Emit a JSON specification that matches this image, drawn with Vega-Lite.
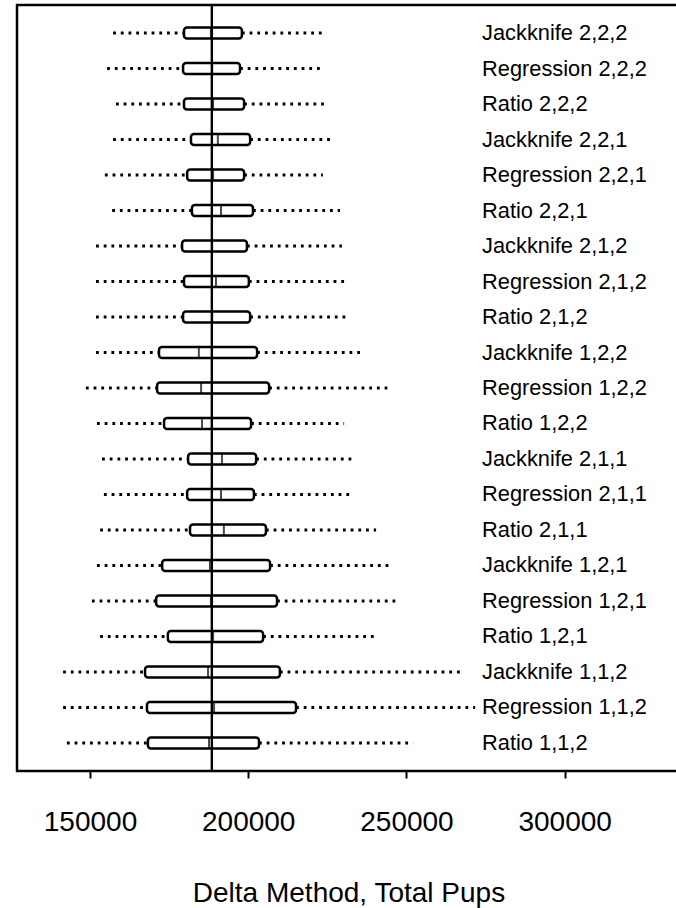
{
  "$schema": "https://vega.github.io/schema/vega-lite/v6.json",
  "autosize": {"type": "none"},
  "padding": {"left": 17, "top": 5, "right": 0, "bottom": 137},
  "width": 663,
  "height": 766,
  "background": "white",
  "config": {
    "view": {"stroke": "black", "strokeWidth": 2.5},
    "font": "Liberation Sans"
  },
  "data": {
    "values": [
      {"name": "Jackknife 2,2,2", "lo": 157300, "q1": 179700, "med": 188200, "q3": 198000, "hi": 224300},
      {"name": "Regression 2,2,2", "lo": 155400, "q1": 179400, "med": 188600, "q3": 197400, "hi": 223600},
      {"name": "Ratio 2,2,2", "lo": 158200, "q1": 179700, "med": 188900, "q3": 198700, "hi": 225200},
      {"name": "Jackknife 2,2,1", "lo": 157300, "q1": 181900, "med": 190400, "q3": 200600, "hi": 226800},
      {"name": "Regression 2,2,1", "lo": 154700, "q1": 180700, "med": 188900, "q3": 198700, "hi": 223600},
      {"name": "Ratio 2,2,1", "lo": 157000, "q1": 182200, "med": 191400, "q3": 201500, "hi": 229000},
      {"name": "Jackknife 2,1,2", "lo": 151900, "q1": 179100, "med": 188600, "q3": 199600, "hi": 229600},
      {"name": "Regression 2,1,2", "lo": 151900, "q1": 179700, "med": 189800, "q3": 200200, "hi": 230300},
      {"name": "Ratio 2,1,2", "lo": 151900, "q1": 179400, "med": 188600, "q3": 200600, "hi": 231200},
      {"name": "Jackknife 1,2,2", "lo": 151900, "q1": 171800, "med": 184400, "q3": 202800, "hi": 236300},
      {"name": "Regression 1,2,2", "lo": 148700, "q1": 171200, "med": 185100, "q3": 206600, "hi": 244500},
      {"name": "Ratio 1,2,2", "lo": 152200, "q1": 173400, "med": 185400, "q3": 200900, "hi": 230300},
      {"name": "Jackknife 2,1,1", "lo": 153800, "q1": 181000, "med": 191700, "q3": 202500, "hi": 233100},
      {"name": "Regression 2,1,1", "lo": 154400, "q1": 180700, "med": 191400, "q3": 201800, "hi": 233100},
      {"name": "Ratio 2,1,1", "lo": 153200, "q1": 181600, "med": 192300, "q3": 205600, "hi": 240400},
      {"name": "Jackknife 1,2,1", "lo": 152200, "q1": 172800, "med": 187900, "q3": 206900, "hi": 244500},
      {"name": "Regression 1,2,1", "lo": 150600, "q1": 170900, "med": 188200, "q3": 209100, "hi": 247300},
      {"name": "Ratio 1,2,1", "lo": 153200, "q1": 174600, "med": 188900, "q3": 204700, "hi": 240700},
      {"name": "Jackknife 1,1,2", "lo": 141500, "q1": 167400, "med": 187300, "q3": 210000, "hi": 267900},
      {"name": "Regression 1,1,2", "lo": 141500, "q1": 168000, "med": 189200, "q3": 215100, "hi": 271700},
      {"name": "Ratio 1,1,2", "lo": 142700, "q1": 168300, "med": 187600, "q3": 203400, "hi": 252100}
    ]
  },
  "encoding": {
    "y": {
      "field": "name",
      "type": "nominal",
      "sort": null,
      "axis": null,
      "scale": {"type": "band", "paddingInner": 0.69, "paddingOuter": 0.635}
    }
  },
  "layer": [
    {
      "mark": {"type": "rule", "color": "black", "strokeWidth": 3, "strokeDash": [2.8, 4.9]},
      "encoding": {
        "x": {
          "field": "lo",
          "type": "quantitative",
          "scale": {"domain": [126930, 336440], "nice": false, "zero": false},
          "axis": {
            "values": [150000, 200000, 250000, 300000],
            "format": "d",
            "domain": false,
            "grid": false,
            "ticks": true,
            "tickSize": 7,
            "tickWidth": 2,
            "tickColor": "black",
            "labelFontSize": 28,
            "labelColor": "black",
            "labelPadding": 30,
            "labelFont": "Liberation Sans",
            "title": "Delta Method, Total Pups",
            "titleFontSize": 28,
            "titleFontWeight": "normal",
            "titleColor": "black",
            "titleFont": "Liberation Sans",
            "titlePadding": 43
          }
        },
        "x2": {"field": "q1"}
      }
    },
    {
      "mark": {"type": "rule", "color": "black", "strokeWidth": 3, "strokeDash": [2.8, 4.9]},
      "encoding": {
        "x": {"field": "q3", "type": "quantitative"},
        "x2": {"field": "hi"}
      }
    },
    {
      "mark": {"type": "bar", "fill": "white", "stroke": "black", "strokeWidth": 2.5, "cornerRadius": 3},
      "encoding": {
        "x": {"field": "q1", "type": "quantitative"},
        "x2": {"field": "q3"}
      }
    },
    {
      "mark": {"type": "tick", "orient": "vertical", "color": "black", "size": 11, "thickness": 2},
      "encoding": {
        "x": {"field": "med", "type": "quantitative"}
      }
    },
    {
      "mark": {"type": "text", "align": "left", "baseline": "middle", "fontSize": 21.8, "font": "Liberation Sans", "color": "black"},
      "encoding": {
        "x": {"datum": 273900},
        "text": {"field": "name", "type": "nominal"}
      }
    },
    {
      "data": {"values": [{"ref": 188500}]},
      "mark": {"type": "rule", "color": "black", "strokeWidth": 2.4},
      "encoding": {
        "x": {"field": "ref", "type": "quantitative"},
        "y": null
      }
    }
  ]
}
